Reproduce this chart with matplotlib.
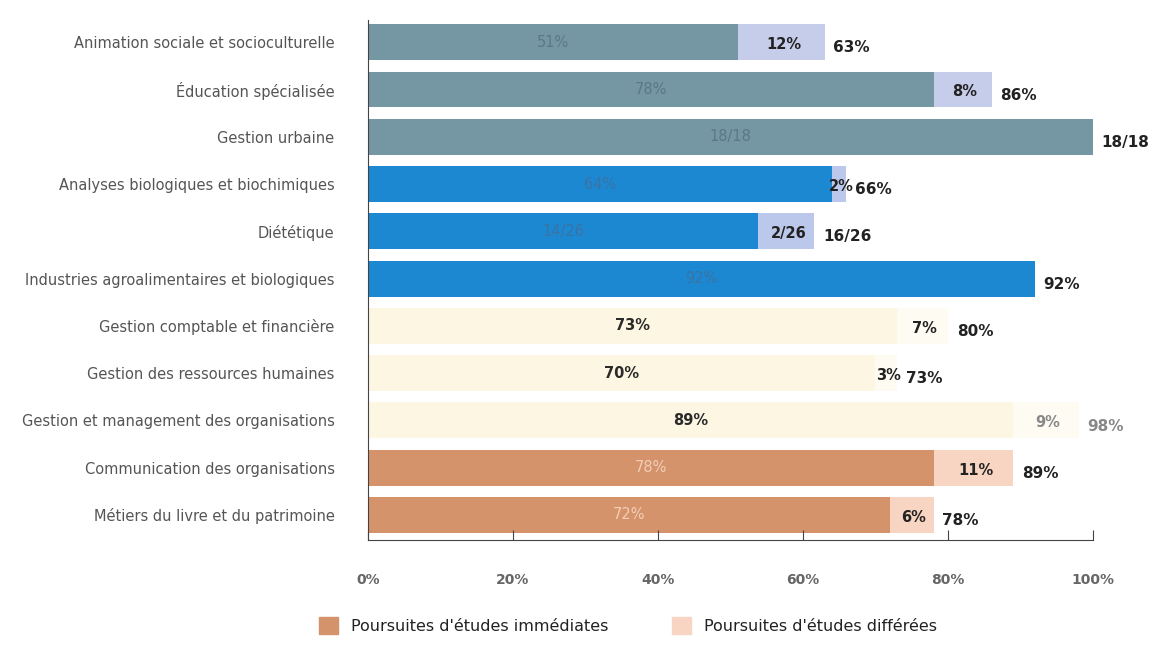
import matplotlib.pyplot as plt
import matplotlib.patches as mpatches

plt.rcParams['font.family'] = ['DejaVu Sans']

# Données
categories = [
    "Animation sociale et socioculturelle",
    "Éducation spécialisée",
    "Gestion urbaine",
    "Analyses biologiques et biochimiques",
    "Diététique",
    "Industries agroalimentaires et biologiques",
    "Gestion comptable et financière",
    "Gestion des ressources humaines",
    "Gestion et management des organisations",
    "Communication des organisations",
    "Métiers du livre et du patrimoine",
]
immediate = [0.51, 0.78, 1.00, 0.64, 14 / 26, 0.92, 0.73, 0.70, 0.89, 0.78, 0.72]
deferred = [0.12, 0.08, 0.0, 0.02, 2 / 26, 0.0, 0.07, 0.03, 0.09, 0.11, 0.06]
immediate_labels = ["51%", "78%", "18/18", "64%", "14/26", "92%", "73%", "70%", "89%", "78%", "72%"]
deferred_labels = ["12%", "8%", "", "2%", "2/26", "", "7%", "3%", "9%", "11%", "6%"]
total_labels = ["63%", "86%", "18/18", "66%", "16/26", "92%", "80%", "73%", "98%", "89%", "78%"]
groups = [0, 0, 0, 1, 1, 1, 2, 2, 2, 3, 3]

# couleurs par groupe : (immédiat, différé, texte immédiat)
group_colors = [
    ("#7596a3", "#c6cdea", "#5c7886"),
    ("#1c88d2", "#bcc7ec", "#3a73a4"),
    ("#fcf6e2", "#fefbf2", "#2a2a2a"),
    ("#d4936b", "#f8d5c2", "#f3cdb6"),
]

fig = plt.figure(figsize=(11.52, 6.45), dpi=100)
ax = fig.add_axes([0.3194, 0.1628, 0.6294, 0.8062])

ys = list(range(len(categories)))
for y, imm, dif, g in zip(ys, immediate, deferred, groups):
    c_imm, c_dif, _ = group_colors[g]
    ax.barh(y, imm, height=0.76, color=c_imm)
    if dif > 0:
        ax.barh(y, dif, left=imm, height=0.76, color=c_dif)

for y, imm, dif, g, li, ld, lt in zip(ys, immediate, deferred, groups,
                                       immediate_labels, deferred_labels, total_labels):
    txt_col = group_colors[g][2]
    ax.text(imm / 2, y, li, ha="center", va="center", fontsize=10.5,
            color=txt_col, fontweight="bold" if g == 2 else "normal")
    outer_col = "#888888" if y == 8 else "#222222"
    if ld:
        ax.text(imm + dif / 2 + 0.003, y + 0.05, ld, ha="center", va="center",
                fontsize=10.5, fontweight="bold", color=outer_col)
    ax.text(imm + dif + 0.012, y + 0.12, lt, ha="left", va="center",
            fontsize=11, fontweight="bold", color=outer_col)

ax.set_xlim(0, 1.0)
ax.set_ylim(10.53, -0.47)
ax.set_yticks(ys)
ax.set_yticklabels(categories, fontsize=10.5, color="#555555")
ax.tick_params(axis="y", length=0, pad=24)

ax.set_xticks([0, 0.2, 0.4, 0.6, 0.8, 1.0])
ax.set_xticklabels(["0%", "20%", "40%", "60%", "80%", "100%"],
                   fontsize=10, fontweight="bold", color="#666666")
ax.tick_params(axis="x", direction="in", length=7, color="#444444", pad=24)

for s in ["top", "right"]:
    ax.spines[s].set_visible(False)
ax.spines["left"].set_color("#444444")
ax.spines["bottom"].set_color("#444444")

handles = [
    mpatches.Patch(color="#d4936b", label="Poursuites d'études immédiates"),
    mpatches.Patch(color="#f8d5c2", label="Poursuites d'études différées"),
]
fig.legend(handles=handles, loc="lower center", bbox_to_anchor=(0.545, -0.005),
           ncol=2, frameon=False, fontsize=11.5, handlelength=1.2, handleheight=1.2,
           columnspacing=4.0, labelcolor="#222222")

fig.savefig("out.png", dpi=100)
plt.close(fig)
